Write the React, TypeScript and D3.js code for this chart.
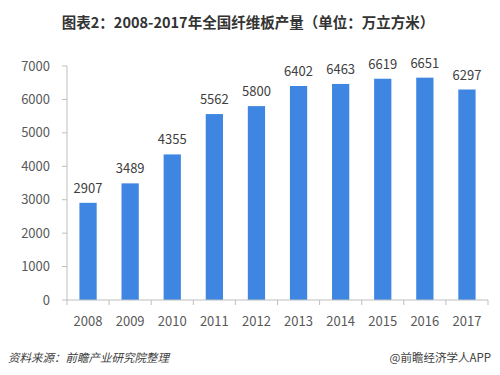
import React from "react";
import * as d3 from "d3";

const years = ["2008","2009","2010","2011","2012","2013","2014","2015","2016","2017"];
const values = [2907,3489,4355,5562,5800,6402,6463,6619,6651,6297];
const yTicks = [0,1000,2000,3000,4000,5000,6000,7000];

const W = 500, H = 375;
const m = { left: 67, right: 488, top: 66, bottom: 300 };
const font = "'Noto Sans CJK SC', 'Open Sans', sans-serif";

export default function App() {
  const x = d3.scaleBand<string>().domain(years).range([m.left, m.right]).paddingInner(0).paddingOuter(0);
  const y = d3.scaleLinear().domain([0, 7000]).range([m.bottom, m.top]);
  const bw = x.bandwidth() * 0.41;
  const boundaries = years.map((d) => x(d)!).concat([m.right]);
  return (
    <svg width={W} height={H} style={{ position: "absolute", left: 0, top: 0, background: "#fff" }} fontFamily={font}>
      <text x={248} y={28} textAnchor="middle" fontSize={14.5} fontWeight="bold" fill="#333">图表2：2008-2017年全国纤维板产量（单位：万立方米）</text>
      <line x1={m.left} x2={m.left} y1={m.top} y2={m.bottom} stroke="#bfbfbf" />
      {yTicks.map((t) => (
        <g key={t}>
          <line x1={m.left - 5} x2={m.left} y1={y(t)} y2={y(t)} stroke="#bfbfbf" />
          <text x={50} y={y(t)} dy="0.35em" textAnchor="end" fontSize={13} fill="#595959">{t}</text>
        </g>
      ))}
      {years.map((yr, i) => (
        <g key={yr}>
          <rect x={x(yr)! + (x.bandwidth() - bw) / 2} y={y(values[i])} width={bw} height={y(0) - y(values[i])} fill="#3f86e2" />
          <text x={x(yr)! + x.bandwidth() / 2} y={y(values[i]) - 10} textAnchor="middle" fontSize={13} fill="#404040">{values[i]}</text>
          <text x={x(yr)! + x.bandwidth() / 2} y={326} textAnchor="middle" fontSize={13} fill="#595959">{yr}</text>
        </g>
      ))}
      <line x1={m.left} x2={m.right} y1={m.bottom} y2={m.bottom} stroke="#bfbfbf" />
      {boundaries.map((b, i) => (
        <line key={i} x1={b} x2={b} y1={m.bottom} y2={m.bottom + 5} stroke="#bfbfbf" />
      ))}
      <text x={8} y={362} fontSize={11.5} fontStyle="italic" fill="#404040">资料来源：前瞻产业研究院整理</text>
      <text x={491} y={362} textAnchor="end" fontSize={11.5} fill="#404040">@前瞻经济学人APP</text>
    </svg>
  );
}
